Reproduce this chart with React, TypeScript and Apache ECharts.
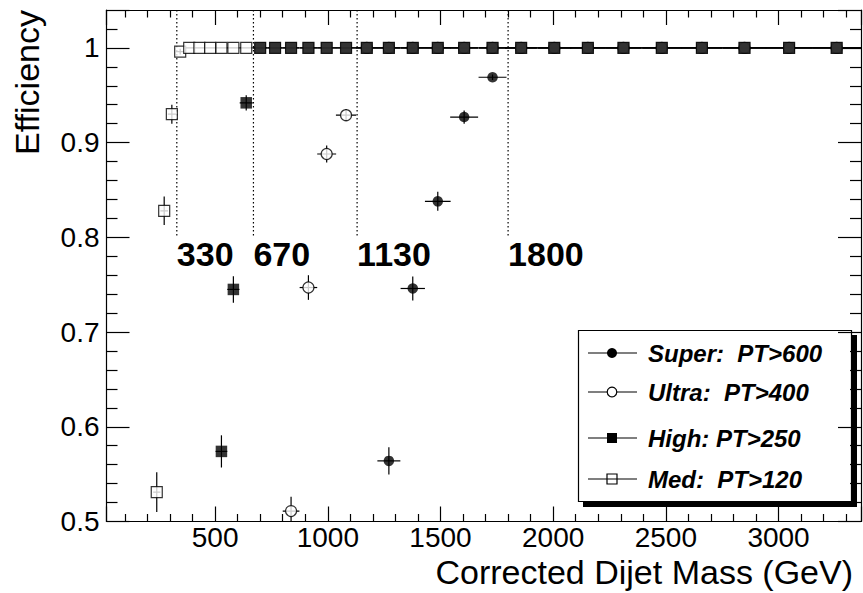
import React, { useEffect, useRef } from "react";
import * as echarts from "echarts";

// Dijet mass bin centres (GeV) and half widths
const massBins = [241, 274, 308, 345, 385, 430, 478, 528, 581, 638, 700, 766, 837, 914, 995, 1081, 1173, 1271, 1377, 1488, 1605, 1731, 1858, 2005, 2154, 2312, 2482, 2660, 2849, 3047, 3258];
const binHalfWidths = [16, 17, 18, 19, 21, 23, 24, 26, 27, 29, 32, 34, 37, 39, 42, 45, 48, 51, 54, 57, 62, 62, 70, 75, 77, 81, 87, 92, 96, 103, 108];

// Efficiencies per trigger (null = off scale / not shown)
const superEff = [null, null, null, null, null, null, null, null, null, null, null, null, null, null, null, null, null, 0.564, 0.746, 0.838, 0.927, 0.969, 1, 1, 1, 1, 1, 1, 1, 1, 1];
const superErr = [0, 0, 0, 0, 0, 0, 0, 0, 0, 0, 0, 0, 0, 0, 0, 0, 0, 0.0145, 0.0127, 0.010, 0.007, 0.003, 0, 0, 0, 0, 0, 0, 0, 0, 0];
const ultraEff = [null, null, null, null, null, null, null, null, null, null, null, null, 0.511, 0.747, 0.888, 0.929, 1, 1, 1, 1, 1, 1, 1, 1, 1, 1, 1, 1, 1, 1, 1];
const ultraErr = [0, 0, 0, 0, 0, 0, 0, 0, 0, 0, 0, 0, 0.015, 0.013, 0.009, 0.0065, 0, 0, 0, 0, 0, 0, 0, 0, 0, 0, 0, 0, 0, 0, 0];
const highEff = [null, null, null, null, null, null, null, 0.574, 0.745, 0.942, 1, 1, 1, 1, 1, 1, 1, 1, 1, 1, 1, 1, 1, 1, 1, 1, 1, 1, 1, 1, 1];
const highErr = [0, 0, 0, 0, 0, 0, 0, 0.017, 0.014, 0.008, 0, 0, 0, 0, 0, 0, 0, 0, 0, 0, 0, 0, 0, 0, 0, 0, 0, 0, 0, 0, 0];
const medEff = [0.531, 0.828, 0.930, 0.996, 1, 1, 1, 1, 1, 1, 1, 1, 1, 1, 1, 1, 1, 1, 1, 1, 1, 1, 1, 1, 1, 1, 1, 1, 1, 1, 1];
const medErr = [0.021, 0.015, 0.010, 0.003, 0, 0, 0, 0, 0, 0, 0, 0, 0, 0, 0, 0, 0, 0, 0, 0, 0, 0, 0, 0, 0, 0, 0, 0, 0, 0, 0];

// Mass thresholds (GeV)
const cutValues = [330, 670, 1130, 1800];
const cutLabels = ["330", "670", "1130", "1800"];

const legendLabels = ["Super:  PT>600", "Ultra:  PT>400", "High: PT>250", "Med:  PT>120"];

const xTitle = "Corrected Dijet Mass (GeV)";
const yTitle = "Efficiency";

const FONT = '"Liberation Sans", Arial, Helvetica, sans-serif';

function buildPoints(eff: (number | null)[], err: number[]) {
  const pts: number[][] = [];
  massBins.forEach((m, i) => {
    const v = eff[i];
    if (v !== null && v !== undefined) pts.push([m, v, binHalfWidths[i], err[i]]);
  });
  return pts;
}

function errorSeries(name: string, eff: (number | null)[], err: number[]) {
  return {
    type: "custom",
    name: name + " errors",
    silent: true,
    clip: true,
    z: 2,
    data: buildPoints(eff, err),
    encode: { x: 0, y: 1 },
    renderItem: (params: any, api: any) => {
      const x = api.value(0);
      const y = api.value(1);
      const dx = api.value(2);
      const dy = api.value(3);
      const l = api.coord([x - dx, y]);
      const r = api.coord([x + dx, y]);
      const children: any[] = [
        { type: "line", shape: { x1: l[0], y1: l[1], x2: r[0], y2: r[1] }, style: { stroke: "#000", lineWidth: 1.2 } },
      ];
      if (dy > 0) {
        const t = api.coord([x, y + dy]);
        const b = api.coord([x, y - dy]);
        children.push({ type: "line", shape: { x1: t[0], y1: t[1], x2: b[0], y2: b[1] }, style: { stroke: "#000", lineWidth: 1.2 } });
      }
      return { type: "group", children };
    },
  };
}

function markerSeries(name: string, eff: (number | null)[], err: number[], symbol: string, size: number, filled: boolean) {
  return {
    type: "scatter",
    name,
    silent: true,
    z: 3,
    symbol,
    symbolSize: size,
    data: buildPoints(eff, err).map((p) => [p[0], p[1]]),
    itemStyle: filled
      ? { color: "#000", borderWidth: 0 }
      : { color: "#fff", borderColor: "#000", borderWidth: 1.2 },
  };
}

export default function App() {
  const ref = useRef<HTMLDivElement>(null);

  useEffect(() => {
    if (!ref.current) return;
    const chart = echarts.init(ref.current, undefined, { renderer: "svg" });

    const axisLineStyle = { color: "#000", width: 1.2 };
    const xMin = 18;
    const xMax = 3366;
    const yMin = 0.5;
    const yMax = 1.04;

    const legendRowsY = [353, 392, 438, 479];
    const legendChildren: any[] = [
      { type: "rect", shape: { x: 583, y: 335, width: 274, height: 172 }, style: { fill: "#000" } },
      { type: "rect", shape: { x: 578.5, y: 330.5, width: 273, height: 171 }, style: { fill: "#fff", stroke: "#000", lineWidth: 1.2 } },
    ];
    legendLabels.forEach((lab, i) => {
      const cy = legendRowsY[i];
      legendChildren.push({ type: "line", shape: { x1: 588, y1: cy, x2: 637, y2: cy }, style: { stroke: "#000", lineWidth: 1.2 } });
      if (i === 0) legendChildren.push({ type: "circle", shape: { cx: 612, cy, r: 5 }, style: { fill: "#000" } });
      if (i === 1) legendChildren.push({ type: "circle", shape: { cx: 612, cy, r: 4.8 }, style: { fill: "#fff", stroke: "#000", lineWidth: 1.2 } });
      if (i === 2) legendChildren.push({ type: "rect", shape: { x: 607, y: cy - 5, width: 10, height: 10 }, style: { fill: "#000" } });
      if (i === 3) legendChildren.push({ type: "rect", shape: { x: 607, y: cy - 5, width: 10, height: 10 }, style: { fill: "none", stroke: "#000", lineWidth: 1.2 } });
      legendChildren.push({
        type: "text",
        x: 648,
        y: cy,
        style: { text: lab, fill: "#000", fontSize: 24, fontWeight: "bold", fontStyle: "italic", fontFamily: FONT, align: "left", verticalAlign: "middle" },
      });
    });

    const option: any = {
      animation: false,
      backgroundColor: "#fff",
      grid: { left: 106.5, right: 2, top: 10, bottom: 71.5, containLabel: false },
      xAxis: [
        {
          type: "value",
          min: xMin,
          max: xMax,
          position: "bottom",
          axisLine: { show: true, onZero: false, lineStyle: axisLineStyle },
          axisTick: { show: true, inside: true, length: 15, lineStyle: axisLineStyle },
          minorTick: { show: true, splitNumber: 5, length: 7.5, lineStyle: axisLineStyle },
          splitLine: { show: false },
          axisLabel: {
            showMinLabel: false,
            showMaxLabel: false,
            fontSize: 28,
            lineHeight: 24,
            color: "#000",
            fontFamily: FONT,
            margin: 3.5,
            formatter: (v: number) => String(v),
          },
        },
        {
          type: "value",
          min: xMin,
          max: xMax,
          position: "top",
          axisLine: { show: true, onZero: false, lineStyle: axisLineStyle },
          axisTick: { show: true, inside: true, length: 15, lineStyle: axisLineStyle },
          minorTick: { show: true, splitNumber: 5, length: 7.5, lineStyle: axisLineStyle },
          splitLine: { show: false },
          axisLabel: { show: false },
        },
      ],
      yAxis: [
        {
          type: "value",
          min: yMin,
          max: yMax,
          interval: 0.1,
          position: "left",
          axisLine: { show: true, onZero: false, lineStyle: axisLineStyle },
          axisTick: { show: true, inside: true, length: 23, lineStyle: axisLineStyle },
          minorTick: { show: true, splitNumber: 5, length: 11, lineStyle: axisLineStyle },
          splitLine: { show: false },
          axisLabel: { showMaxLabel: false, fontSize: 28, color: "#000", fontFamily: FONT, margin: 7 },
        },
        {
          type: "value",
          min: yMin,
          max: yMax,
          interval: 0.1,
          position: "right",
          axisLine: { show: true, onZero: false, lineStyle: axisLineStyle },
          axisTick: { show: true, inside: true, length: 23, lineStyle: axisLineStyle },
          minorTick: { show: true, splitNumber: 5, length: 11, lineStyle: axisLineStyle },
          splitLine: { show: false },
          axisLabel: { show: false },
        },
      ],
      graphic: [
        {
          type: "text",
          x: 853,
          y: 572,
          style: { text: xTitle, fill: "#000", fontSize: 34, lineHeight: 28, fontFamily: FONT, align: "right", verticalAlign: "middle" },
        },
        {
          type: "text",
          x: 26.7,
          y: 10,
          rotation: Math.PI / 2,
          style: { text: yTitle, fill: "#000", fontSize: 34, fontFamily: FONT, align: "right", verticalAlign: "middle" },
        },
        { type: "group", children: legendChildren, z: 100 },
      ],
      series: [
        {
          type: "custom",
          name: "thresholds",
          silent: true,
          clip: false,
          z: 1,
          data: cutValues.map((v) => [v, 0.8]),
          encode: { x: 0, y: 1 },
          renderItem: (params: any, api: any) => {
            const x = api.value(0);
            const top = api.coord([x, yMax]);
            const bot = api.coord([x, 0.8]);
            const lab = api.coord([x, 0.782]);
            return {
              type: "group",
              children: [
                { type: "line", shape: { x1: top[0], y1: top[1], x2: bot[0], y2: bot[1] }, style: { stroke: "#000", lineWidth: 1.2, lineDash: [1.5, 2.5] } },
                {
                  type: "text",
                  x: lab[0],
                  y: lab[1],
                  style: { text: cutLabels[params.dataIndex], fill: "#000", fontSize: 34, fontWeight: "bold", fontFamily: FONT, align: "left", verticalAlign: "middle" },
                },
              ],
            };
          },
        },
        errorSeries("Super", superEff, superErr),
        errorSeries("Ultra", ultraEff, ultraErr),
        errorSeries("Med", medEff, medErr),
        errorSeries("High", highEff, highErr),
        markerSeries("Super", superEff, superErr, "circle", 10.5, true),
        markerSeries("Ultra", ultraEff, ultraErr, "circle", 11, false),
        markerSeries("Med", medEff, medErr, "rect", 11, false),
        markerSeries("High", highEff, highErr, "rect", 11.5, true),
      ],
    };

    chart.setOption(option);
    return () => {
      chart.dispose();
    };
  }, []);

  return <div ref={ref} style={{ position: "fixed", left: 0, top: 0, width: 863, height: 593, background: "#fff" }} />;
}
